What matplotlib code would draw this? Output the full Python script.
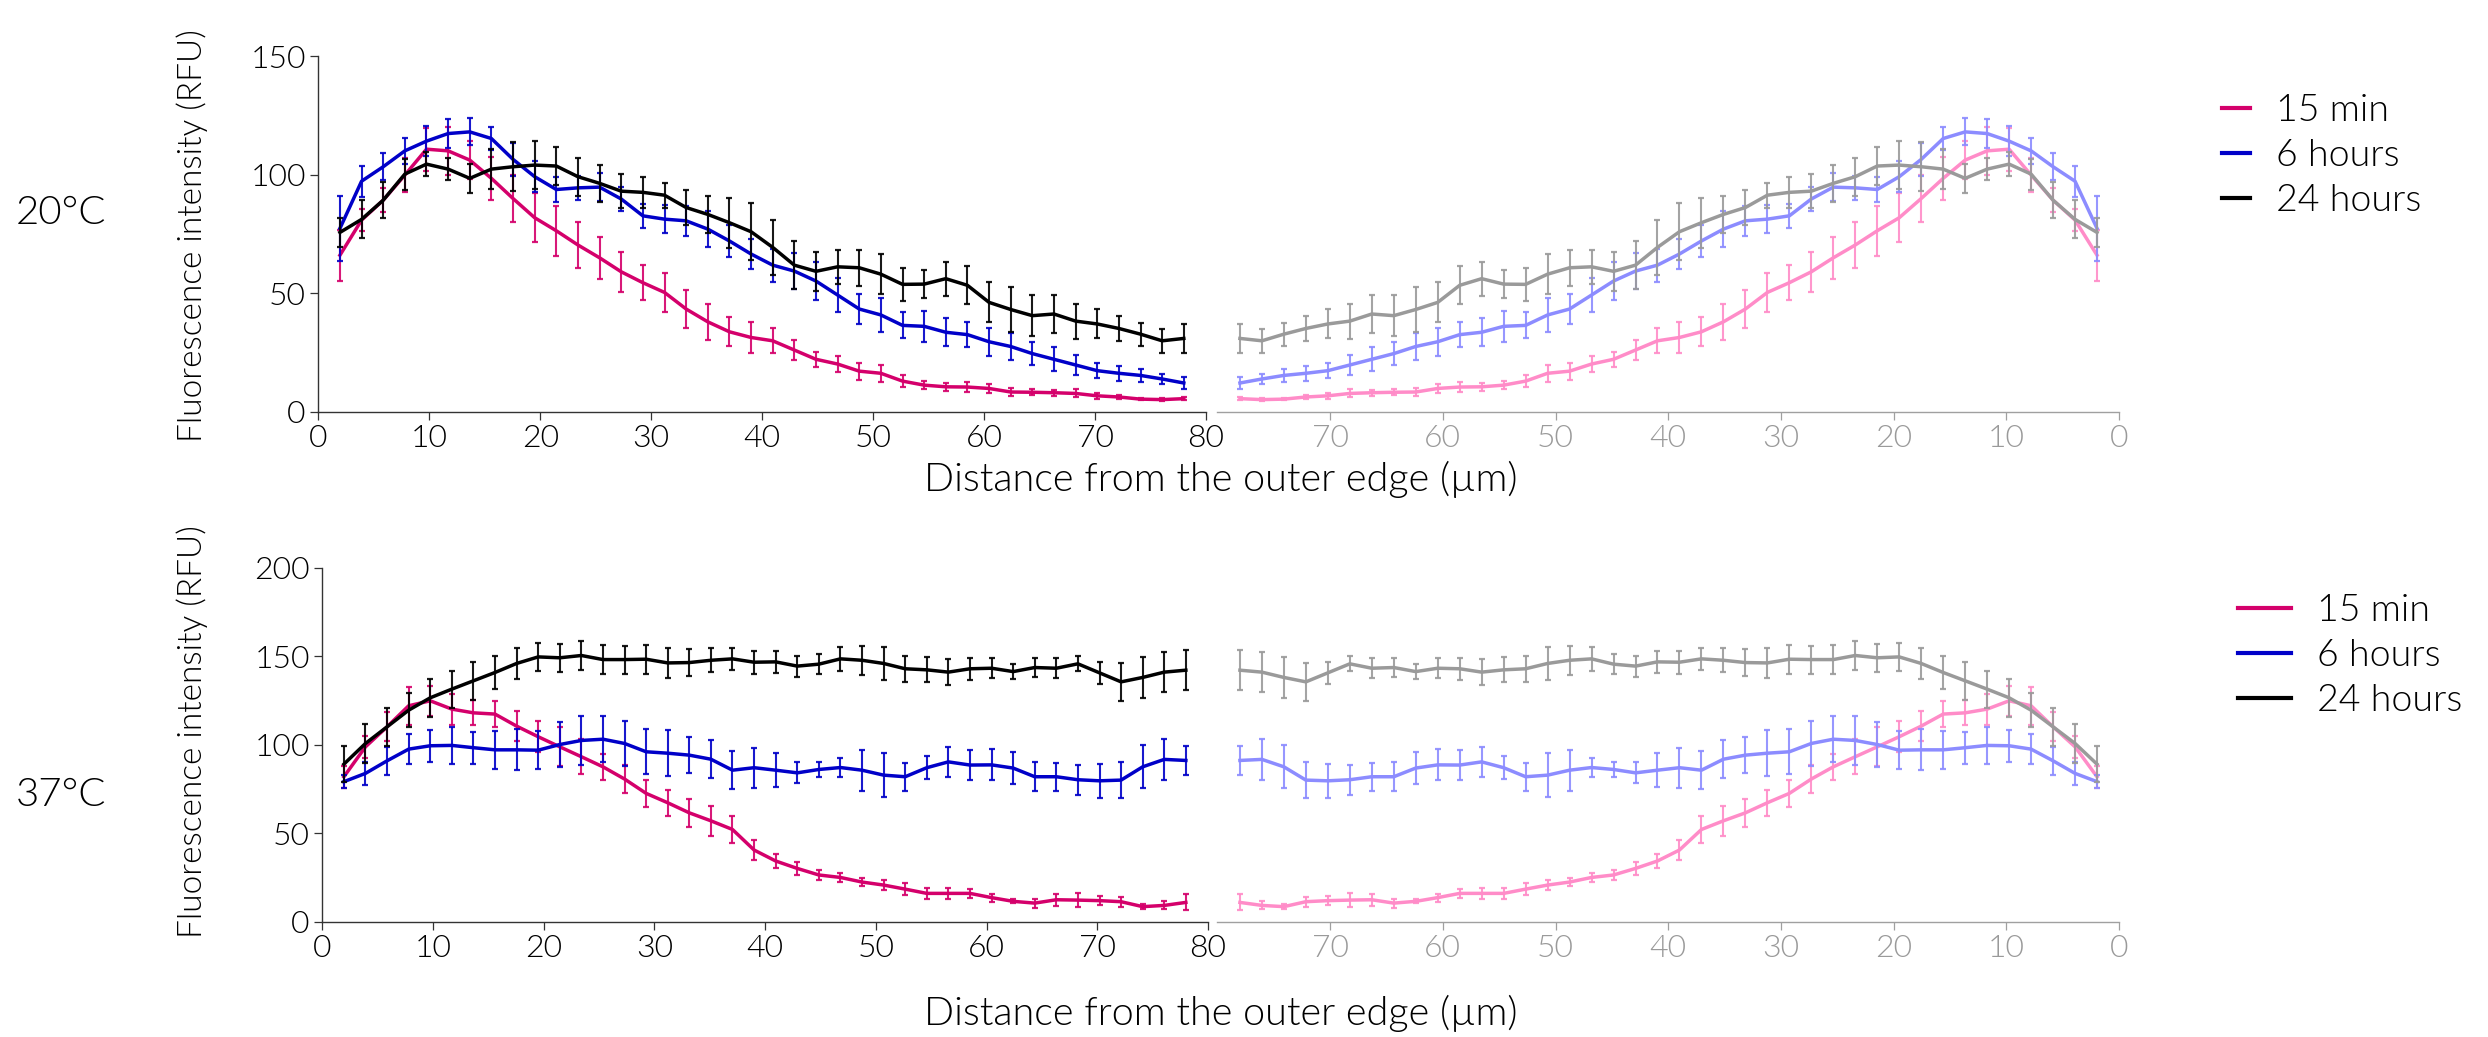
import numpy as np
import matplotlib
matplotlib.use("Agg")
import matplotlib.pyplot as plt
from matplotlib.lines import Line2D

plt.rcParams["font.family"] = ["Lato", "DejaVu Sans"]
plt.rcParams["font.weight"] = 300

# Radial positions of the profile bins (µm from the outer edge)
dist = np.arange(1, 41) * 1.95

series_labels = ["15 min", "6 hours", "24 hours"]

# ---- 20 °C ----
t20_15min = [66.0, 80.8, 89.2, 99.8, 110.7, 110.0, 106.1, 98.4, 89.9, 81.8,
             76.3, 70.3, 64.9, 59.0, 54.4, 50.3, 43.3, 37.9, 33.7, 31.3,
             29.9, 26.0, 22.1, 20.1, 17.1, 16.2, 12.9, 11.2, 10.5, 10.4,
             9.8, 8.3, 8.2, 8.0, 7.7, 6.7, 6.2, 5.3, 5.1, 5.5]
t20_15min_err = [10.8, 4.6, 5.0, 7.0, 9.0, 10.0, 8.0, 9.0, 10.0, 10.4,
                 10.6, 9.7, 8.9, 8.4, 7.5, 8.3, 7.9, 7.6, 6.2, 6.4,
                 5.3, 4.3, 3.2, 3.5, 3.6, 3.7, 2.4, 1.7, 1.7, 2.1,
                 2.0, 1.6, 1.3, 1.3, 1.7, 1.3, 0.8, 0.5, 0.5, 0.5]
t20_6h = [77.3, 97.2, 103.3, 110.0, 114.1, 117.3, 118.0, 115.2, 106.4, 99.1,
          93.7, 94.4, 94.7, 89.7, 82.6, 81.2, 80.5, 77.0, 72.0, 66.5,
          61.8, 59.3, 55.1, 49.2, 43.3, 40.8, 36.4, 36.0, 33.5, 32.5,
          29.5, 27.5, 24.5, 22.1, 19.7, 17.3, 16.2, 15.3, 13.8, 12.1]
t20_6h_err = [13.7, 6.5, 5.6, 5.5, 6.2, 6.0, 5.7, 4.8, 7.0, 6.6,
              5.1, 5.0, 6.0, 5.1, 5.1, 6.0, 6.4, 7.5, 6.8, 6.5,
              7.0, 7.5, 7.9, 7.0, 6.5, 7.0, 5.5, 6.5, 6.0, 5.4,
              6.0, 5.5, 4.9, 5.0, 4.4, 3.2, 3.2, 2.7, 2.3, 2.5]
t20_24h = [75.6, 81.1, 89.2, 100.2, 104.4, 102.3, 98.4, 102.3, 103.3, 104.0,
           103.6, 99.1, 96.3, 93.0, 92.5, 91.3, 86.1, 83.2, 79.7, 75.9,
           69.3, 61.8, 59.2, 61.1, 60.7, 58.0, 53.7, 53.8, 56.1, 53.3,
           46.1, 43.1, 40.5, 41.2, 38.2, 37.0, 35.1, 32.7, 29.9, 30.9]
t20_24h_err = [6.2, 8.0, 7.6, 6.5, 5.0, 4.6, 6.2, 8.5, 10.4, 10.0,
               8.0, 8.0, 7.9, 7.2, 6.5, 5.3, 7.2, 7.9, 10.5, 11.9,
               11.5, 10.2, 8.3, 7.3, 7.6, 8.3, 7.0, 5.8, 7.2, 8.0,
               8.4, 9.4, 8.7, 8.2, 7.4, 6.1, 5.2, 4.8, 5.0, 6.0]

# ---- 37 °C ----
t37_15min = [81.9, 98.8, 110.1, 122.0, 124.8, 120.1, 118.0, 117.3, 110.5, 104.5,
             98.8, 93.2, 87.5, 80.6, 72.5, 67.2, 61.5, 57.0, 52.1, 40.5,
             34.3, 30.1, 26.4, 25.0, 22.4, 20.7, 18.4, 16.0, 16.0, 16.0,
             13.6, 11.5, 10.5, 12.4, 12.2, 11.9, 11.3, 8.5, 9.2, 10.9]
t37_15min_err = [6.2, 6.2, 8.2, 10.6, 8.5, 8.8, 7.0, 7.3, 8.6, 8.7,
                 11.0, 10.0, 7.3, 7.8, 7.5, 7.3, 7.9, 8.4, 7.8, 5.6,
                 4.1, 3.7, 2.8, 2.7, 2.5, 3.0, 3.5, 3.1, 3.3, 2.6,
                 2.2, 1.1, 2.5, 3.3, 3.9, 2.5, 2.9, 1.6, 2.3, 4.5]
t37_6h = [79.1, 83.8, 90.9, 97.5, 99.4, 99.6, 98.3, 97.1, 97.1, 96.9,
          100.1, 102.4, 103.1, 100.7, 96.0, 95.2, 94.1, 91.8, 85.6, 87.0,
          85.6, 84.1, 86.0, 87.1, 85.6, 82.8, 81.9, 87.0, 90.3, 88.5,
          88.6, 86.8, 81.9, 81.9, 80.2, 79.6, 80.0, 87.5, 91.7, 91.1]
t37_6h_err = [3.5, 6.6, 7.9, 8.5, 9.1, 10.4, 9.1, 10.7, 11.6, 10.9,
              12.7, 13.6, 13.1, 12.6, 12.6, 13.1, 10.1, 10.6, 10.9, 11.3,
              9.5, 6.0, 4.2, 5.6, 11.6, 12.5, 7.8, 6.6, 8.6, 8.6,
              8.8, 9.0, 8.3, 8.0, 8.6, 9.5, 10.2, 12.2, 11.6, 8.4]
t37_24h = [89.0, 100.7, 110.1, 119.5, 126.5, 131.4, 136.1, 140.8, 145.9, 149.6,
           149.1, 150.4, 148.1, 148.1, 148.3, 146.2, 146.4, 147.7, 148.5, 146.6,
           146.8, 144.4, 145.5, 148.5, 147.7, 145.9, 142.9, 142.3, 141.0, 142.9,
           143.2, 141.3, 143.6, 143.2, 145.7, 140.6, 135.5, 138.0, 141.0, 142.1]
t37_24h_err = [10.0, 10.8, 10.9, 9.6, 10.8, 10.4, 10.6, 9.4, 9.0, 8.0,
               7.9, 8.0, 8.3, 7.9, 8.3, 8.4, 7.8, 6.9, 6.4, 6.6,
               6.2, 5.9, 5.6, 6.7, 8.3, 9.2, 7.2, 7.0, 7.4, 6.1,
               5.6, 4.3, 5.5, 5.7, 4.3, 6.4, 10.9, 11.7, 11.4, 11.3]

dark_colors = ["#D4006B", "#0000C8", "#000000"]
light_colors = ["#FF8CC8", "#8C8CFF", "#9A9A9A"]

W, H = 2488, 1037
fig = plt.figure(figsize=(W / 100, H / 100), dpi=100)


def px_axes(x0, x1, y_top, y_bot):
    return fig.add_axes([x0 / W, 1 - y_bot / H, (x1 - x0) / W, (y_bot - y_top) / H])


def draw_profiles(ax, data, errs, colors):
    for i, (vals, err, c) in enumerate(zip(data, errs, colors)):
        ax.errorbar(dist, vals, yerr=err, fmt="none", ecolor=c, elinewidth=1.5,
                    capsize=2.0, capthick=1.6, alpha=0.9, zorder=2 + i)
        ax.plot(dist, vals, color=c, lw=2.5, zorder=2.5 + i,
                solid_joinstyle="round")


def style_left(ax, ymax, ystep):
    ax.set_xlim(0, 80)
    ax.set_ylim(0, ymax)
    ax.set_xticks(np.arange(0, 81, 10))
    ax.set_yticks(np.arange(0, ymax + 1, ystep))
    for s in ("top", "right"):
        ax.spines[s].set_visible(False)
    for s in ("left", "bottom"):
        ax.spines[s].set_color("#333333")
        ax.spines[s].set_linewidth(1.0)
    ax.tick_params(axis="both", direction="out", length=6, width=0.9,
                   color="#333333", labelsize=23, labelcolor="#000000", pad=3)
    ax.patch.set_alpha(0)


def style_right(ax, ymax):
    ax.set_xlim(80, 0)
    ax.set_ylim(0, ymax)
    ax.set_xticks(np.arange(0, 71, 10))
    ax.set_yticks([])
    for s in ("top", "right", "left"):
        ax.spines[s].set_visible(False)
    ax.spines["bottom"].set_color("#A0A0A0")
    ax.spines["bottom"].set_linewidth(1.0)
    ax.tick_params(axis="x", direction="out", length=6, width=0.9,
                   color="#A0A0A0", labelsize=23, labelcolor="#9A9A9A", pad=3)
    ax.patch.set_alpha(0)


# Top row: 20 °C
ax_tl = px_axes(318.3, 1206, 56, 411.7)
ax_tr = px_axes(1217.4, 2119, 56, 411.7)
d20 = [t20_15min, t20_6h, t20_24h]
e20 = [t20_15min_err, t20_6h_err, t20_24h_err]
draw_profiles(ax_tl, d20, e20, dark_colors)
draw_profiles(ax_tr, d20, e20, light_colors)
style_left(ax_tl, 150, 50)
style_right(ax_tr, 150)

# Bottom row: 37 °C
ax_bl = px_axes(322.3, 1208, 567.7, 921.7)
ax_br = px_axes(1217.4, 2119, 567.7, 921.7)
d37 = [t37_15min, t37_6h, t37_24h]
e37 = [t37_15min_err, t37_6h_err, t37_24h_err]
draw_profiles(ax_bl, d37, e37, dark_colors)
draw_profiles(ax_br, d37, e37, light_colors)
style_left(ax_bl, 200, 50)
style_right(ax_br, 200)

# Axis titles and row labels
ylab = "Fluorescence intensity (RFU)"
xlab = "Distance from the outer edge (\u00b5m)"
fig.text(192 / W, 1 - 236 / H, ylab, rotation=90, ha="center", va="center", fontsize=24)
fig.text(192 / W, 1 - 732 / H, ylab, rotation=90, ha="center", va="center", fontsize=24)
fig.text(1221 / W, 1 - 479 / H, xlab, ha="center", va="center", fontsize=28.5)
fig.text(1221 / W, 1 - 1013 / H, xlab, ha="center", va="center", fontsize=28.5)
fig.text(61 / W, 1 - 213 / H, "20\u00b0C", ha="center", va="center", fontsize=29)
fig.text(61 / W, 1 - 795 / H, "37\u00b0C", ha="center", va="center", fontsize=29)


def legend_handles(colors):
    return [Line2D([0], [0], color=c, lw=3.0) for c in colors]


fig.legend(legend_handles(dark_colors), series_labels, loc="center left",
           bbox_to_anchor=(2222 / W, 1 - 156 / H), frameon=False, fontsize=27,
           handlelength=0.75, handletextpad=0.7, labelspacing=0.3,
           borderpad=0, borderaxespad=0)
fig.legend(legend_handles(dark_colors), series_labels, loc="center left",
           bbox_to_anchor=(2238 / W, 1 - 656 / H), frameon=False, fontsize=27,
           handlelength=1.41, handletextpad=0.7, labelspacing=0.3,
           borderpad=0, borderaxespad=0)

fig.savefig("out.png", dpi=100)
